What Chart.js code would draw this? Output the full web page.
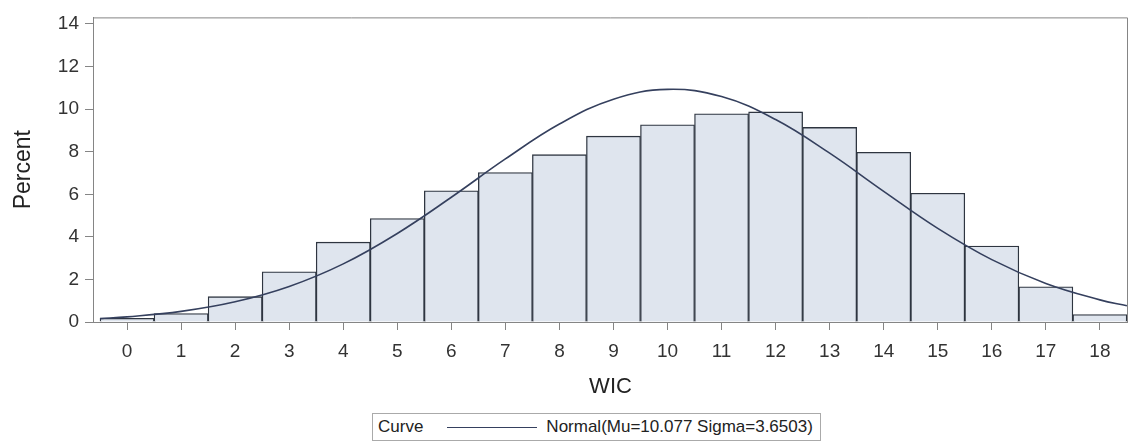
<!DOCTYPE html>
<html lang="en">
  <head>
    <meta charset="UTF-8" />
    <title>WIC</title>
    <script src="https://cdn.jsdelivr.net/npm/chart.js"></script>
    <style>
      body {
        margin: 0;
        background: #fff;
        font-family: "Liberation Sans", Arial, sans-serif;
      }
      .grafico {
        position: relative;
        width: 1128px;
        height: 400px;
      }
      /* legenda embaixo do grafico */
      .legenda {
        position: absolute;
        left: 372px;
        top: 413px;
        height: 26px;
        border: 1px solid #aaa;
        font-size: 17px;
        color: #222;
        display: flex;
        align-items: center;
        padding: 0 7px 0 5px;
        white-space: nowrap;
      }
      .legenda .traco {
        display: inline-block;
        width: 90px;
        border-top: 1.5px solid #35405e;
        margin: 0 9px 0 24px;
      }
    </style>
  </head>
  <body>
    <div class="grafico">
      <canvas id="graficoWic"></canvas>
    </div>
    <div class="legenda">
      <span>Curve</span><span class="traco"></span><span>Normal(Mu=10.077 Sigma=3.6503)</span>
    </div>

    <script>
      // valores
      const wic = [0, 1, 2, 3, 4, 5, 6, 7, 8, 9, 10, 11, 12, 13, 14, 15, 16, 17, 18];
      const percent = [
        0.17, 0.4, 1.19, 2.36, 3.75, 4.86, 6.16, 7.02, 7.86, 8.73, 9.26, 9.78,
        9.87, 9.14, 7.97, 6.05, 3.57, 1.65, 0.35,
      ];
      const curvaX = [
        -0.5, 0, 1, 2, 3, 4, 5, 6, 7, 8, 9, 10, 11, 12, 13, 14, 15, 16, 17, 18, 18.5,
      ];
      const curvaY = [
        0.16, 0.24, 0.5, 0.95, 1.67, 2.73, 4.16, 5.86, 7.66, 9.3, 10.47, 10.93,
        10.59, 9.51, 7.93, 6.14, 4.4, 2.93, 1.81, 1.04, 0.76,
      ];
      const yTicks = [0, 2, 4, 6, 8, 10, 12, 14];

      const cinza = "#858585";

      // moldura em cima e na direita
      const moldura = {
        id: "moldura",
        afterDraw(chart) {
          const { ctx, chartArea } = chart;
          ctx.save();
          ctx.strokeStyle = cinza;
          ctx.lineWidth = 1;
          ctx.beginPath();
          ctx.moveTo(chartArea.left, chartArea.top + 0.5);
          ctx.lineTo(chartArea.right - 0.5, chartArea.top + 0.5);
          ctx.lineTo(chartArea.right - 0.5, chartArea.bottom);
          ctx.stroke();
          ctx.restore();
        },
      };

      new Chart(document.getElementById("graficoWic"), {
        type: "bar",
        data: {
          datasets: [
            {
              type: "line",
              data: curvaX.map((x, i) => ({ x: x, y: curvaY[i] })),
              borderColor: "#35405e",
              borderWidth: 1.6,
              pointRadius: 0,
              tension: 0.4,
              fill: false,
              order: 0,
            },
            {
              type: "bar",
              data: wic.map((x, i) => ({ x: x, y: percent[i] })),
              backgroundColor: "#dfe5ee",
              borderColor: "#2e3540",
              borderWidth: 1.3,
              barPercentage: 1,
              categoryPercentage: 1,
              order: 1,
            },
          ],
        },
        options: {
          responsive: true,
          maintainAspectRatio: false,
          animation: false,
          layout: { padding: { top: 9, left: 0, right: 0, bottom: 0 } },
          plugins: {
            legend: { display: false },
            tooltip: { enabled: false },
          },
          scales: {
            x: {
              type: "linear",
              offset: false,
              min: -0.63,
              max: 18.52,
              afterBuildTicks: (scale) => {
                scale.ticks = wic.map((v) => ({ value: v }));
              },
              afterFit: (scale) => {
                scale.height = 78;
              },
              grid: {
                offset: false,
                drawOnChartArea: false,
                color: cinza,
                tickLength: 8,
              },
              border: { color: cinza },
              ticks: {
                color: "#333",
                padding: 10,
                maxRotation: 0,
                font: { family: "Liberation Sans", size: 19 },
              },
              title: {
                display: true,
                text: "WIC",
                color: "#222",
                padding: { top: 0, bottom: 0 },
                font: { family: "Liberation Sans", size: 22 },
              },
            },
            y: {
              min: 0,
              max: 14.31,
              afterBuildTicks: (scale) => {
                scale.ticks = yTicks.map((v) => ({ value: v }));
              },
              afterFit: (scale) => {
                scale.width = 93;
              },
              grid: {
                drawOnChartArea: false,
                color: cinza,
                tickLength: 8,
              },
              border: { color: cinza },
              ticks: {
                color: "#333",
                padding: 6,
                font: { family: "Liberation Sans", size: 19 },
              },
              title: {
                display: true,
                text: "Percent",
                color: "#222",
                padding: { top: 10, bottom: 0 },
                font: { family: "Liberation Sans", size: 23 },
              },
            },
          },
        },
        plugins: [moldura],
      });
    </script>
  </body>
</html>
